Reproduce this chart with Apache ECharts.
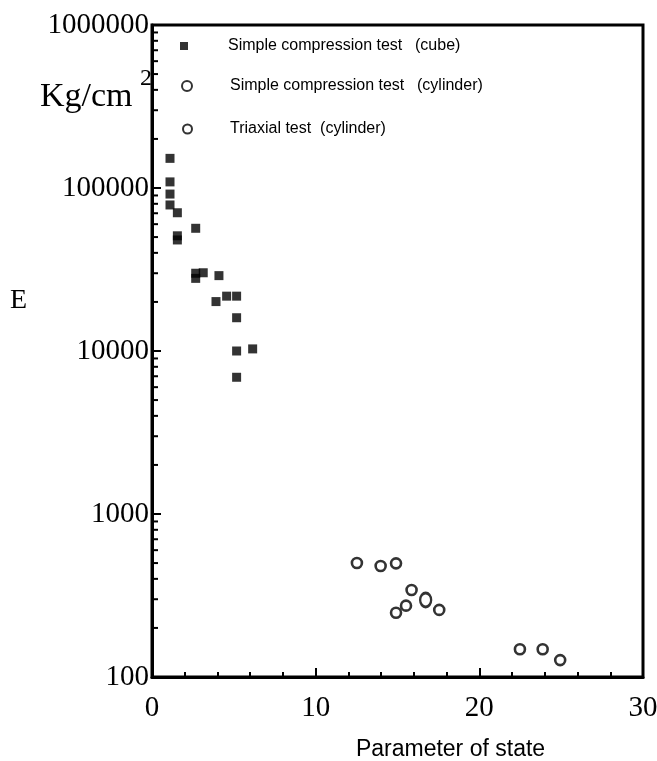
<!DOCTYPE html>
<html>
<head>
<meta charset="utf-8">
<script src="https://cdn.jsdelivr.net/npm/echarts@6/dist/echarts.min.js"></script>
<style>html,body{margin:0;padding:0;background:#fff}#c{width:657px;height:761px}</style>
</head>
<body>
<div id="c"></div>
<script>
// ---- data ----
const cubeX = [1.10, 1.10, 1.10, 1.10, 1.55, 2.67, 1.55, 1.55, 2.67, 3.13, 2.67, 4.09, 3.91, 4.56, 5.17, 5.17, 5.17, 6.15, 5.17];
const cubeE = [152000, 109000, 91800, 78700, 70500, 56600, 50900, 48000, 30000, 30200, 27900, 29000, 20100, 21700, 21700, 16000, 10000, 10300, 6900];
const cylX = [16.72];
const cylE = [297];
const triX = [12.52, 13.97, 14.91, 15.86, 15.52, 14.91, 17.55, 22.48, 23.87, 24.94];
const triE = [500, 480, 498, 342, 274, 248, 258, 148, 148, 127];
const xTicks = [0, 10, 20, 30];
const yTicks = [100, 1000, 10000, 100000, 1000000];
const yMinorMult = [2, 3, 4, 5, 6, 7, 8, 9];
const yMinorDecades = [100, 1000, 10000, 100000];
const seriesNames = ['Simple compression test (cube)', 'Simple compression test (cylinder)', 'Triaxial test (cylinder)'];

const zip = (a, b) => a.map((v, i) => [v, b[i]]);
const minorVals = [];
yMinorDecades.forEach(d => yMinorMult.forEach(m => minorVals.push([0, d * m])));

const serif = "'Liberation Serif','Times New Roman',serif";
const sans = "'Liberation Sans',Arial,sans-serif";

const chart = echarts.init(document.getElementById('c'), null, {renderer: 'canvas'});
const FS = 16;
const legendText = pad => ({fontFamily: sans, fontSize: FS, color: '#000', padding: [0, 0, 0, pad],
    rich: {a: {fontFamily: sans, fontSize: FS, width: 187, color: '#000'}, b: {fontFamily: sans, fontSize: FS, color: '#000'}}});
chart.setOption({
  animation: false,
  backgroundColor: '#fff',
  grid: {left: 152, right: 14, top: 25, bottom: 84, show: true, borderColor: '#000', borderWidth: 3,
    outerBoundsMode: 'none', containLabel: false},
  legend: [
    {orient: 'vertical', selectedMode: false, data: [seriesNames[0]], top: 33, left: 175, itemWidth: 8, itemHeight: 8,
      textStyle: legendText(35), formatter: () => '{a|Simple compression test}{b|(cube)}'},
    {orient: 'vertical', selectedMode: false, data: [seriesNames[1]], top: 73, left: 176, itemWidth: 10, itemHeight: 13,
      textStyle: legendText(33), formatter: () => '{a|Simple compression test}{b|(cylinder)}'},
    {orient: 'vertical', selectedMode: false, data: [seriesNames[2]], top: 116, left: 177, itemWidth: 9, itemHeight: 9,
      textStyle: legendText(33), formatter: () => 'Triaxial test  (cylinder)'}
  ],
  xAxis: {
    type: 'value', min: 0, max: 30, interval: 10,
    axisLine: {lineStyle: {color: '#000', width: 3}},
    axisTick: {inside: true, length: 9, lineStyle: {color: '#000', width: 2}},
    minorTick: {show: true, splitNumber: 5, length: 5, lineStyle: {color: '#000', width: 2}},
    splitLine: {show: false},
    axisLabel: {fontFamily: serif, fontSize: 29, color: '#000', margin: 17,
      formatter: v => xTicks.includes(v) ? String(v) : ''},
    name: 'Parameter of state', nameLocation: 'middle', nameGap: 61,
    nameTextStyle: {fontFamily: sans, fontSize: 23, color: '#000', padding: [0, 0, 0, 106]}
  },
  yAxis: {
    type: 'log', logBase: 10, min: 100, max: 1000000,
    axisLine: {lineStyle: {color: '#000', width: 3}},
    axisTick: {inside: true, length: 9, lineStyle: {color: '#000', width: 2}},
    splitLine: {show: false},
    axisLabel: {fontFamily: serif, fontSize: 29, color: '#000', margin: 3,
      formatter: v => String(Math.round(v))}
  },
  graphic: [
    {type: 'text', left: 10, top: 287, style: {text: 'E', fontFamily: serif, fontSize: 28, fill: '#000'}},
    {type: 'text', left: 40, top: 80, style: {text: 'Kg/cm', fontFamily: serif, fontSize: 34, fill: '#000'}},
    {type: 'text', left: 140, top: 67, style: {text: '2', fontFamily: serif, fontSize: 24, fill: '#000'}}
  ],
  series: [
    {name: seriesNames[0], type: 'scatter', symbol: 'rect', symbolSize: 9,
      itemStyle: {color: '#000'}, data: zip(cubeX, cubeE), z: 5},
    {name: seriesNames[1], type: 'scatter', symbol: 'circle', symbolSize: [11, 14],
      itemStyle: {color: '#fff', borderColor: '#000', borderWidth: 2.6}, data: zip(cylX, cylE), z: 5},
    {name: seriesNames[2], type: 'scatter', symbol: 'circle', symbolSize: 10,
      itemStyle: {color: '#fff', borderColor: '#000', borderWidth: 2.6}, data: zip(triX, triE), z: 5},
    {type: 'custom', silent: true, data: minorVals, z: 4,
      renderItem: (params, api) => {
        const p = api.coord([api.value(0), api.value(1)]);
        return {type: 'line', shape: {x1: p[0], y1: p[1], x2: p[0] + 6, y2: p[1]},
          style: {stroke: '#000', lineWidth: 2}};
      }}
  ]
});
</script>
</body>
</html>
